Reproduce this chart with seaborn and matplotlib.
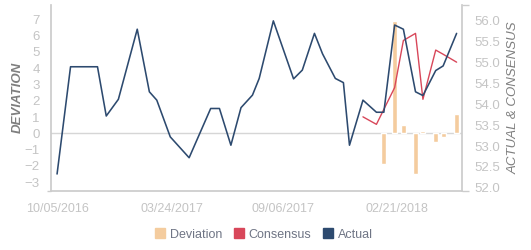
import matplotlib
matplotlib.use("Agg")
import matplotlib.pyplot as plt
import matplotlib.dates as mdates
from matplotlib.lines import Line2D
from matplotlib.ticker import FixedLocator, FormatStrFormatter
import seaborn as sns
import pandas as pd

# ---------------- data ----------------
actual_dates = ["2016-10-05", "2016-10-25", "2016-12-04", "2016-12-17", "2017-01-04",
                "2017-02-01", "2017-02-19", "2017-03-02", "2017-03-22", "2017-04-19",
                "2017-05-21", "2017-06-03", "2017-06-20", "2017-07-05", "2017-07-22",
                "2017-08-01", "2017-08-22", "2017-09-21", "2017-10-04", "2017-10-22",
                "2017-11-03", "2017-11-22", "2017-12-04", "2017-12-13", "2018-01-02",
                "2018-01-22", "2018-02-02", "2018-02-18", "2018-03-03", "2018-03-21",
                "2018-04-01", "2018-04-20", "2018-05-01", "2018-05-21"]
actual_values = [52.33, 54.90, 54.90, 53.72, 54.12, 55.80, 54.30, 54.10, 53.22, 52.72,
                 53.90, 53.90, 53.02, 53.92, 54.22, 54.62, 56.00, 54.61, 54.82, 55.70,
                 55.21, 54.62, 54.52, 53.02, 54.10, 53.81, 53.81, 55.90, 55.80, 54.30,
                 54.21, 54.81, 54.92, 55.70]

consensus_dates = ["2018-01-02", "2018-01-22", "2018-02-02", "2018-02-18", "2018-03-03",
                   "2018-03-21", "2018-04-01", "2018-04-20", "2018-05-01", "2018-05-21"]
consensus_values = [53.70, 53.52, 53.88, 54.40, 55.53, 55.70, 54.12, 55.30, 55.20, 55.01]

deviation_dates = ["2018-02-02", "2018-02-18", "2018-03-03", "2018-03-21",
                   "2018-04-01", "2018-04-20", "2018-05-01", "2018-05-21"]
deviation_values = [-1.90, 6.90, 0.51, -2.52, 0.14, -0.52, -0.25, 1.19]

x_tick_dates = ["2016-10-05", "2017-03-24", "2017-09-06", "2018-02-21"]
left_ticks = [-3, -2, -1, 0, 1, 2, 3, 4, 5, 6, 7]
right_ticks = [52.0, 52.5, 53.0, 53.5, 54.0, 54.5, 55.0, 55.5, 56.0]

# ---------------- style ----------------
sns.set_theme(style="white")
plt.rcParams["font.family"] = ["Liberation Sans", "DejaVu Sans"]

C_DEV = "#f4cc9e"
C_CON = "#d8475a"
C_ACT = "#2d4a6f"
C_AXIS = "#cccccc"
C_TICK = "#c4c4c4"
C_LABEL = "#7f7f7f"

act = pd.DataFrame({"date": pd.to_datetime(actual_dates), "value": actual_values})
con = pd.DataFrame({"date": pd.to_datetime(consensus_dates), "value": consensus_values})
dev = pd.DataFrame({"date": pd.to_datetime(deviation_dates), "value": deviation_values})

fig = plt.figure(figsize=(5.31, 2.5), dpi=100)
ax = fig.add_axes([51 / 531, 1 - 190.7 / 250, (462 - 51) / 531, (190.7 - 5) / 250])
ax2 = ax.twinx()

# deviation bars on left axis
ax.bar(dev["date"], dev["value"], width=7.4, color=C_DEV, zorder=2)
ax.axhline(0, color="#d6d6d6", lw=1, zorder=1)

# lines on right axis
sns.lineplot(data=con, x="date", y="value", ax=ax2, color=C_CON, lw=1.0, zorder=3)
sns.lineplot(data=act, x="date", y="value", ax=ax2, color=C_ACT, lw=1.15, zorder=4)

xmin = pd.Timestamp("2016-09-26")
xmax = pd.Timestamp("2018-05-29")
ax.set_xlim(xmin, xmax)
ax.set_ylim(-3.53, 7.89)
ax2.set_ylim(51.93, 56.38)

ax.xaxis.set_major_locator(FixedLocator(mdates.date2num(pd.to_datetime(x_tick_dates))))
ax.xaxis.set_major_formatter(mdates.DateFormatter("%m/%d/%Y"))
ax.set_yticks(left_ticks)
ax2.set_yticks(right_ticks)
ax2.yaxis.set_major_formatter(FormatStrFormatter("%.1f"))

# end ticks as minor ticks
ax.xaxis.set_minor_locator(FixedLocator(mdates.date2num([xmin, xmax])))
ax.yaxis.set_minor_locator(FixedLocator([-3.53]))
ax2.yaxis.set_minor_locator(FixedLocator([51.93, 56.38]))

ax.tick_params(axis="x", which="major", length=0, pad=9, labelsize=9, labelcolor=C_TICK)
ax.tick_params(axis="x", which="minor", length=4, width=1, color=C_AXIS, direction="out")
ax.tick_params(axis="y", which="major", length=0, pad=8, labelsize=9.5, labelcolor=C_TICK)
ax.tick_params(axis="y", which="minor", length=3, width=1, color=C_AXIS, direction="out")
ax2.tick_params(axis="y", which="major", length=0, pad=9, labelsize=9.5, labelcolor=C_TICK)
ax2.tick_params(axis="y", which="minor", length=5, width=1, color=C_AXIS, direction="out")

for a in (ax, ax2):
    a.spines["top"].set_visible(False)
    a.spines["left"].set_color(C_AXIS)
    a.spines["bottom"].set_color(C_AXIS)
    a.spines["right"].set_color(C_AXIS)
    a.grid(False)
ax.spines["right"].set_visible(False)
ax2.spines["left"].set_visible(False)
ax2.spines["bottom"].set_visible(False)

ax.set_xlabel("")
ax2.set_xlabel("")
ax.set_ylabel("DEVIATION", fontsize=9.5, fontstyle="italic", fontweight="bold",
              color=C_LABEL, labelpad=0.5)
ax2.set_ylabel("ACTUAL & CONSENSUS", fontsize=9.5, fontstyle="italic",
               color=C_LABEL, labelpad=5)

handles = [
    Line2D([], [], ls="none", marker="s", markersize=7.5, markerfacecolor=C_DEV, markeredgecolor=C_DEV),
    Line2D([], [], ls="none", marker="s", markersize=7.5, markerfacecolor=C_CON, markeredgecolor=C_CON),
    Line2D([], [], ls="none", marker="s", markersize=7.5, markerfacecolor=C_ACT, markeredgecolor=C_ACT),
]
leg = fig.legend(handles, ["Deviation", "Consensus", "Actual"], loc="center",
                 bbox_to_anchor=(264 / 531, 1 - 234.5 / 250), ncol=3, frameon=False,
                 fontsize=9, handlelength=0.8, handletextpad=0.4, columnspacing=0.9)
for t in leg.get_texts():
    t.set_color("#6f7585")

fig.savefig("out.png", dpi=100)
